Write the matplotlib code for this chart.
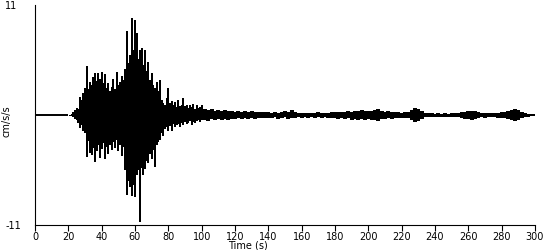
import numpy as np
import matplotlib
matplotlib.use("Agg")
import matplotlib.pyplot as plt

# strong-motion part, 1 s steps (t = 20 .. 100 s)
t_main = list(range(20, 101))
up_main = [0, 0.05, 0.1, 0.3, 0.5, 0.7, 0.6, 1.8, 1.5, 2.2,
           2.7, 4.9, 2.6, 3.3, 3.0, 3.8, 4.2, 3.4, 4.2, 3.6,
           4.3, 3.2, 4.1, 2.7, 3.2, 2.4, 2.8, 3.6, 2.6, 4.3,
           3.0, 3.3, 3.9, 3.5, 4.6, 8.4, 5.2, 6.0, 9.7, 6.5,
           9.5, 8.2, 5.6, 6.5, 6.7, 5.0, 6.5, 4.4, 5.3, 3.5,
           4.2, 3.0, 2.7, 3.3, 2.4, 3.5, 1.5, 1.2, 1.0, 1.7,
           2.7, 1.2, 1.4, 1.0, 1.3, 0.8, 1.5, 0.9, 1.0, 1.7,
           0.9, 1.0, 0.7, 1.0, 0.8, 1.1, 0.6, 1.0, 0.7, 0.8, 1.0]
lo_main = [0, -0.05, -0.1, -0.2, -0.4, -0.5, -0.8, -1.3, -1.0, -1.6,
           -1.8, -4.2, -2.6, -3.8, -4.0, -3.3, -4.7, -3.6, -3.0, -4.3,
           -3.4, -2.8, -4.4, -3.2, -3.9, -3.0, -3.5, -2.7, -3.3, -2.5,
           -3.6, -3.0, -4.1, -3.2, -5.5, -8.0, -6.6, -7.2, -8.1, -7.0,
           -8.2, -6.0, -5.5, -10.7, -5.3, -6.0, -5.4, -4.6, -4.8, -3.9,
           -4.4, -3.5, -5.2, -3.0, -2.7, -2.5, -1.8, -2.1, -1.4, -1.2,
           -1.6, -1.1, -1.6, -0.9, -1.2, -1.0, -0.9, -1.2, -0.8, -1.0,
           -0.7, -0.9, -0.8, -0.6, -1.0, -0.7, -0.8, -0.6, -0.5, -0.7, -0.5]

# coda, 2 s steps (t = 102 .. 300 s)
t_tail = list(range(102, 301, 2))
up_tail = [0.6, 0.5, 0.6, 0.4, 0.5, 0.4, 0.5, 0.4, 0.45, 0.35,
           0.45, 0.35, 0.4, 0.3, 0.4, 0.3, 0.35, 0.3, 0.35, 0.3,
           0.25, 0.3, 0.25, 0.35, 0.45, 0.3, 0.5, 0.35, 0.25, 0.2,
           0.25, 0.2, 0.25, 0.2, 0.3, 0.2, 0.25, 0.25, 0.3, 0.35,
           0.3, 0.35, 0.3, 0.4, 0.35, 0.4, 0.45, 0.5, 0.4, 0.45,
           0.4, 0.5, 0.6, 0.45, 0.35, 0.4, 0.3, 0.35, 0.3, 0.25,
           0.3, 0.35, 0.5, 0.7, 0.6, 0.4, 0.25, 0.2, 0.2, 0.15,
           0.2, 0.15, 0.2, 0.15, 0.2, 0.2, 0.25, 0.3, 0.35, 0.45,
           0.4, 0.45, 0.3, 0.25, 0.2, 0.25, 0.2, 0.25, 0.2, 0.3,
           0.3, 0.4, 0.55, 0.65, 0.5, 0.35, 0.2, 0.15, 0.15, 0.1]
lo_tail = [-0.5, -0.6, -0.4, -0.5, -0.4, -0.5, -0.35, -0.45, -0.35, -0.4,
           -0.3, -0.4, -0.3, -0.35, -0.3, -0.35, -0.25, -0.3, -0.25, -0.3,
           -0.3, -0.2, -0.35, -0.25, -0.2, -0.4, -0.25, -0.3, -0.2, -0.25,
           -0.2, -0.25, -0.2, -0.25, -0.2, -0.25, -0.2, -0.3, -0.25, -0.3,
           -0.35, -0.3, -0.4, -0.3, -0.45, -0.35, -0.5, -0.35, -0.45, -0.4,
           -0.5, -0.45, -0.6, -0.4, -0.35, -0.3, -0.35, -0.25, -0.3, -0.3,
           -0.25, -0.3, -0.5, -0.7, -0.55, -0.35, -0.2, -0.15, -0.2, -0.15,
           -0.15, -0.2, -0.15, -0.2, -0.15, -0.2, -0.2, -0.3, -0.35, -0.4,
           -0.45, -0.35, -0.3, -0.2, -0.25, -0.2, -0.2, -0.2, -0.25, -0.25,
           -0.3, -0.35, -0.5, -0.55, -0.45, -0.3, -0.2, -0.15, -0.1, -0.1]

x_ticks = list(range(0, 301, 20))

fig = plt.figure(figsize=(5.5, 2.5), dpi=100)
ax = fig.add_axes([0.0636, 0.1, 0.9091, 0.88])

# quiet record before the first arrival
ax.plot([0, t_main[0]], [0, 0], color="black", lw=1.4, solid_capstyle="butt")
# peak-to-peak swing of the trace at every sample
ax.vlines(t_main, lo_main, up_main, color="black", lw=1.4, antialiased=False)
ax.vlines(t_tail, lo_tail, up_tail, color="black", lw=2.6, antialiased=False)
ax.plot(t_tail, np.zeros(len(t_tail)), color="black", lw=1.4)

ax.set_xlim(0, 300)
ax.set_ylim(-11, 11)
ax.set_xticks(x_ticks)
ax.set_yticks([-11, 11])
ax.set_yticklabels(["-11", "11"], ha="left")
ax.tick_params(axis="x", length=4, width=0.8, labelsize=7, pad=1)
ax.tick_params(axis="y", length=0, labelsize=7, pad=21.5)
for s in ["top", "right"]:
    ax.spines[s].set_visible(False)
for s in ["left", "bottom"]:
    ax.spines[s].set_linewidth(0.8)

ax.set_ylabel("cm/s/s", fontsize=7)
ax.yaxis.set_label_coords(-0.046, 0.47)
ax.set_xlabel("Time (s)", fontsize=7)
ax.xaxis.set_label_coords(0.426, -0.072)

fig.savefig("out.png", dpi=100)
